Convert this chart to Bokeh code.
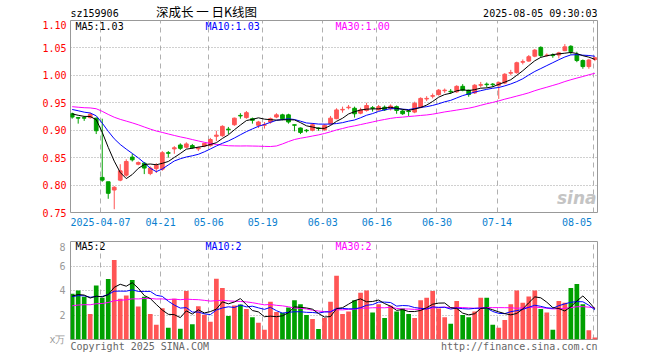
import numpy as np
from bokeh.plotting import figure
from bokeh.models import Range1d, FixedTicker, Label, ColumnDataSource, PrintfTickFormatter
from bokeh.layouts import column
from bokeh.embed import file_html
from bokeh.resources import INLINE

# ---------------- data ----------------
code = "sz159906"
title = "深成长 一 日K线图"
stamp = "2025-08-05 09:30:03"
copyright_text = "Copyright 2025 SINA.COM"
url_text = "http://finance.sina.com.cn"
vol_unit = "x万"

dates = ["03-28", "03-31", "04-01", "04-02", "04-03", "04-07", "04-08", "04-09", "04-10", "04-11",
         "04-14", "04-15", "04-16", "04-17", "04-18", "04-21", "04-22", "04-23", "04-24", "04-25",
         "04-28", "04-29", "04-30", "05-06", "05-07", "05-08", "05-09", "05-12", "05-13", "05-14",
         "05-15", "05-16", "05-19", "05-20", "05-21", "05-22", "05-23", "05-26", "05-27", "05-28",
         "05-29", "05-30", "06-03", "06-04", "06-05", "06-06", "06-09", "06-10", "06-11", "06-12",
         "06-13", "06-16", "06-17", "06-18", "06-19", "06-20", "06-23", "06-24", "06-25", "06-26",
         "06-27", "06-30", "07-01", "07-02", "07-03", "07-04", "07-07", "07-08", "07-09", "07-10",
         "07-11", "07-14", "07-15", "07-16", "07-17", "07-18", "07-21", "07-22", "07-23", "07-24",
         "07-25", "07-28", "07-29", "07-30", "07-31", "08-01", "08-04", "08-05"]

opens = [0.930, 0.923, 0.923, 0.923, 0.922, 0.814, 0.806, 0.791, 0.809, 0.818,
         0.851, 0.838, 0.840, 0.821, 0.830, 0.829, 0.859, 0.866, 0.873, 0.869,
         0.872, 0.866, 0.871, 0.872, 0.889, 0.890, 0.902, 0.910, 0.927, 0.923,
         0.921, 0.909, 0.909, 0.915, 0.924, 0.928, 0.928, 0.910, 0.904, 0.900,
         0.900, 0.904, 0.901, 0.912, 0.921, 0.937, 0.941, 0.940, 0.931, 0.936,
         0.941, 0.937, 0.942, 0.939, 0.943, 0.935, 0.935, 0.933, 0.942, 0.957,
         0.962, 0.965, 0.972, 0.971, 0.970, 0.980, 0.973, 0.968, 0.982, 0.984,
         0.984, 0.982, 0.986, 1.004, 1.005, 1.024, 1.026, 1.035, 1.051, 1.036,
         1.037, 1.037, 1.045, 1.053, 1.038, 1.027, 1.016, 1.029]
highs = [0.932, 0.924, 0.926, 0.932, 0.923, 0.921, 0.806, 0.798, 0.838, 0.847,
         0.857, 0.843, 0.842, 0.834, 0.840, 0.862, 0.862, 0.871, 0.876, 0.878,
         0.875, 0.870, 0.877, 0.886, 0.899, 0.909, 0.906, 0.923, 0.931, 0.935,
         0.923, 0.917, 0.915, 0.923, 0.931, 0.930, 0.930, 0.910, 0.905, 0.902,
         0.913, 0.905, 0.911, 0.926, 0.940, 0.943, 0.946, 0.943, 0.941, 0.950,
         0.944, 0.946, 0.945, 0.947, 0.945, 0.938, 0.937, 0.952, 0.960, 0.962,
         0.967, 0.975, 0.976, 0.975, 0.982, 0.984, 0.974, 0.984, 0.988, 0.987,
         0.986, 0.989, 1.004, 1.010, 1.025, 1.029, 1.037, 1.048, 1.053, 1.040,
         1.040, 1.043, 1.057, 1.055, 1.043, 1.029, 1.030, 1.034]
lows = [0.921, 0.912, 0.917, 0.921, 0.893, 0.806, 0.775, 0.756, 0.807, 0.815,
        0.843, 0.836, 0.820, 0.818, 0.822, 0.826, 0.850, 0.857, 0.864, 0.867,
        0.866, 0.862, 0.869, 0.870, 0.880, 0.888, 0.893, 0.908, 0.921, 0.921,
        0.912, 0.904, 0.903, 0.912, 0.922, 0.918, 0.912, 0.898, 0.893, 0.896,
        0.898, 0.899, 0.899, 0.910, 0.920, 0.932, 0.938, 0.923, 0.929, 0.934,
        0.934, 0.936, 0.935, 0.936, 0.930, 0.928, 0.926, 0.931, 0.940, 0.953,
        0.958, 0.963, 0.968, 0.966, 0.968, 0.971, 0.961, 0.966, 0.978, 0.978,
        0.979, 0.957, 0.984, 1.000, 1.003, 1.020, 1.025, 1.033, 1.033, 1.034,
        1.032, 1.031, 1.044, 1.038, 1.024, 1.012, 1.012, 1.026]
closes = [0.924, 0.922, 0.922, 0.929, 0.899, 0.809, 0.785, 0.796, 0.826, 0.843,
          0.846, 0.841, 0.831, 0.831, 0.836, 0.859, 0.858, 0.868, 0.867, 0.875,
          0.868, 0.868, 0.876, 0.883, 0.891, 0.907, 0.901, 0.922, 0.926, 0.932,
          0.918, 0.915, 0.910, 0.921, 0.928, 0.921, 0.915, 0.909, 0.896, 0.899,
          0.910, 0.903, 0.909, 0.922, 0.937, 0.938, 0.942, 0.930, 0.937, 0.945,
          0.940, 0.943, 0.937, 0.944, 0.936, 0.930, 0.934, 0.949, 0.958, 0.958,
          0.963, 0.973, 0.973, 0.970, 0.980, 0.973, 0.965, 0.982, 0.983, 0.983,
          0.983, 0.987, 1.002, 1.005, 1.023, 1.025, 1.034, 1.046, 1.036, 1.037,
          1.036, 1.041, 1.052, 1.043, 1.027, 1.016, 1.028, 1.032]
volumes = [3.73, 4.00, 3.49, 2.08, 4.40, 3.41, 4.93, 6.48, 3.33, 3.60,
           4.85, 2.69, 3.49, 2.08, 1.20, 2.56, 0.96, 3.33, 0.88, 3.95,
           1.25, 2.72, 2.03, 1.44, 4.96, 4.21, 1.92, 2.77, 2.85, 2.48,
           1.81, 1.36, 0.80, 3.09, 2.24, 2.19, 2.61, 3.20, 2.88, 2.00,
           1.68, 0.85, 1.76, 3.09, 5.20, 2.08, 2.29, 3.20, 3.81, 4.00,
           2.21, 2.88, 1.76, 2.75, 2.29, 2.53, 2.08, 1.76, 3.20, 3.41,
           3.95, 2.53, 1.81, 1.28, 3.15, 2.00, 1.81, 2.29, 3.41, 3.41,
           1.20, 0.96, 1.60, 2.88, 4.00, 3.01, 3.52, 4.00, 2.48, 2.21,
           0.80, 3.15, 3.01, 4.21, 4.53, 2.88, 0.75, 0.16]

# sessions before the visible window (estimated from where the MA lines start)
pre_closes = [0.952, 0.948, 0.941, 0.944, 0.950, 0.955, 0.949, 0.943, 0.938, 0.942,
              0.947, 0.951, 0.946, 0.940, 0.937, 0.944, 0.948, 0.945, 0.942, 0.947,
              0.945, 0.948, 0.944, 0.950, 0.942, 0.935, 0.932, 0.930, 0.928]
pre_volumes = [2.1, 2.6, 2.3, 1.9, 2.8, 2.5, 2.2, 2.0, 2.7, 2.4,
               2.9, 2.3, 2.1, 2.6, 2.2, 2.5, 2.4, 2.3, 2.6, 2.1,
               3.2, 3.6, 3.3, 3.8, 3.35, 3.4, 3.7, 3.3, 3.62]

tick_dates = ["04-07", "04-21", "05-06", "05-19", "06-03", "06-16", "06-30", "07-14", "08-05"]
tick_labels = ["2025-04-07", "04-21", "05-06", "05-19", "06-03", "06-16", "06-30", "07-14", "08-05"]
price_ticks = [0.75, 0.80, 0.85, 0.90, 0.95, 1.00, 1.05, 1.10]
vol_ticks = [0, 2, 4, 6, 8]

# ---------------- helpers ----------------
RED = "#ff5555"
GREEN = "#00a000"
MONO = "DejaVu Sans Mono"
CJK = "Noto Sans CJK SC"
CHAR_W = 6.02  # px per char of the 10px mono font


def ma(series, pre, n):
    full = np.concatenate([np.asarray(pre, float), np.asarray(series, float)])
    out = np.convolve(full, np.ones(n) / n, mode="valid")
    return out[-len(series):]


n = len(dates)
xs = np.arange(n)
colors = [RED if c >= o else GREEN for o, c in zip(opens, closes)]
src = ColumnDataSource(dict(
    x=xs, open=opens, high=highs, low=lows, close=closes,
    top=[max(o, c) for o, c in zip(opens, closes)],
    bottom=[min(o, c) for o, c in zip(opens, closes)],
    vol=volumes, color=colors,
    ma5=ma(closes, pre_closes, 5), ma10=ma(closes, pre_closes, 10), ma30=ma(closes, pre_closes, 30),
    vma5=ma(volumes, pre_volumes, 5), vma10=ma(volumes, pre_volumes, 10), vma30=ma(volumes, pre_volumes, 30),
))

# geometry (page pixels)
W = 608
FL, FR = 70, 597
HEAD_H = 20
P_TOP, P_BOT = 20, 212
V_TOP, V_BOT = 241, 341
GRID_SHIFT = -0.28
x_start = GRID_SHIFT
x_end = x_start + (FR - FL) / 6.008
fx = (x_end - x_start) / (FR - FL)


def x_at(px):
    return x_start + (px - FL) * fx


def y1_at(py):
    return price_ticks[-1] - (py - P_TOP) * (price_ticks[-1] - price_ticks[0]) / (P_BOT - P_TOP)


def y2_at(py):
    return vol_ticks[-1] - (py - V_TOP) * vol_ticks[-1] / (V_BOT - V_TOP)


def lab(fig, x, y, text, color="black", align="left", font=MONO, size="10px", style="normal"):
    fig.add_layout(Label(x=x, y=y, text=text, text_color=color, text_align=align,
                         text_baseline="middle", text_font=font, text_font_size=size,
                         text_font_style=style))


def plain(fig):
    fig.outline_line_color = "#999999"
    fig.background_fill_color = "white"
    fig.border_fill_color = "white"


x_range = Range1d(x_start, x_end)
tick_idx = [dates.index(d) for d in tick_dates]
grid_pos = [i + GRID_SHIFT for i in tick_idx]
label_pos = list(grid_pos)
label_pos[-1] = min(label_pos[-1], x_end - 3.4)

# ---------------- header ----------------
head = figure(width=W, height=HEAD_H, x_range=x_range, y_range=Range1d(HEAD_H, 0),
              output_backend="svg", toolbar_location=None, x_axis_location=None, y_axis_location=None,
              min_border_left=FL, min_border_right=W - FR, min_border_top=0, min_border_bottom=0)
head.outline_line_color = None
head.grid.visible = False
head.background_fill_color = "white"
head.border_fill_color = "white"
lab(head, x_at(FL), 12.5, code)
lab(head, x_at(206), 10.6, title, align="center", font=CJK, size="12.5px")
lab(head, x_at(FR), 12.5, stamp, align="right")

# ---------------- price figure ----------------
P_BB = 29
p1 = figure(width=W, height=(P_BOT - P_TOP) + P_BB, x_range=x_range,
            y_range=Range1d(price_ticks[0], price_ticks[-1]),
            output_backend="svg", toolbar_location=None,
            min_border_left=FL, min_border_right=W - FR, min_border_top=P_TOP - HEAD_H,
            min_border_bottom=P_BB)
plain(p1)

p1.xgrid.ticker = FixedTicker(ticks=grid_pos)
p1.xgrid.grid_line_color = "#b0b0b0"
p1.xgrid.grid_line_dash = "5 4"
p1.ygrid.ticker = FixedTicker(ticks=price_ticks[1:-1])
p1.ygrid.grid_line_color = "#a0a0a0"
p1.ygrid.grid_line_dash = "1 2"

p1.xaxis.ticker = FixedTicker(ticks=label_pos)
p1.xaxis.major_label_overrides = {pos: lab_ for pos, lab_ in zip(label_pos, tick_labels)}
p1.xaxis.axis_line_color = None
p1.xaxis.major_tick_line_color = None
p1.xaxis.minor_tick_line_color = None
p1.xaxis.major_tick_out = 0
p1.xaxis.major_label_standoff = 5
p1.xaxis.major_label_text_font = MONO
p1.xaxis.major_label_text_font_size = "10px"
p1.xaxis.major_label_text_color = "#0a7fcf"

p1.yaxis.ticker = FixedTicker(ticks=price_ticks)
p1.yaxis.formatter = PrintfTickFormatter(format="%.2f")
p1.yaxis.axis_line_color = None
p1.yaxis.major_tick_line_color = None
p1.yaxis.minor_tick_line_color = None
p1.yaxis.major_tick_out = 0
p1.yaxis.major_label_standoff = 4
p1.yaxis.major_label_text_font = MONO
p1.yaxis.major_label_text_font_size = "10px"
p1.yaxis.major_label_text_color = "#ff0000"

p1.segment(x0="x", y0="low", x1="x", y1="high", line_color="color", line_width=1, source=src)
p1.vbar(x="x", width=0.62, top="top", bottom="bottom", fill_color="color", line_color="color",
        line_width=1, source=src)
p1.line(x="x", y="ma30", line_color="#ff00ff", line_width=1, source=src)
p1.line(x="x", y="ma10", line_color="#0000ff", line_width=1, source=src)
p1.line(x="x", y="ma5", line_color="black", line_width=1, source=src)

lab(p1, x_at(75), y1_at(26), f"MA5:{src.data['ma5'][-1]:.2f}", "black")
lab(p1, x_at(205), y1_at(26), f"MA10:{src.data['ma10'][-1]:.2f}", "#0000ff")
lab(p1, x_at(335), y1_at(26), f"MA30:{src.data['ma30'][-1]:.2f}", "#ff00ff")
lab(p1, x_at(596), y1_at(197), "sina", "#c4c4c4", align="right", font="DejaVu Sans", size="17px",
    style="bold italic")

# ---------------- volume figure ----------------
FOOT = 13
V_TB = V_TOP - (P_BOT + P_BB)
p2 = figure(width=W, height=V_TB + (V_BOT - V_TOP) + FOOT, x_range=x_range,
            y_range=Range1d(vol_ticks[0], vol_ticks[-1]),
            output_backend="svg", toolbar_location=None,
            min_border_left=FL, min_border_right=W - FR, min_border_top=V_TB,
            min_border_bottom=FOOT)
plain(p2)

p2.xgrid.ticker = FixedTicker(ticks=grid_pos)
p2.xgrid.grid_line_color = "#b0b0b0"
p2.xgrid.grid_line_dash = "5 4"
p2.ygrid.ticker = FixedTicker(ticks=vol_ticks[1:-1])
p2.ygrid.grid_line_color = "#a0a0a0"
p2.ygrid.grid_line_dash = "1 2"

p2.yaxis.ticker = FixedTicker(ticks=vol_ticks)
p2.yaxis.major_label_overrides = {0: vol_unit}
p2.yaxis.axis_line_color = None
p2.yaxis.major_tick_line_color = None
p2.yaxis.minor_tick_line_color = None
p2.yaxis.major_tick_out = 0
p2.yaxis.major_label_standoff = 5
p2.yaxis.major_label_text_font = MONO
p2.yaxis.major_label_text_font_size = "10px"
p2.yaxis.major_label_text_color = "#999999"

# footer texts carried by the bottom axis of the volume panel
foot_left = x_at(FL + len(copyright_text) * CHAR_W / 2)
foot_right = x_at(FR - len(url_text) * CHAR_W / 2)
p2.xaxis.ticker = FixedTicker(ticks=[foot_left, foot_right])
p2.xaxis.major_label_overrides = {foot_left: copyright_text, foot_right: url_text}
p2.xaxis.axis_line_color = None
p2.xaxis.major_tick_line_color = None
p2.xaxis.minor_tick_line_color = None
p2.xaxis.major_tick_out = 0
p2.xaxis.major_label_standoff = 1
p2.xaxis.major_label_text_font = MONO
p2.xaxis.major_label_text_font_size = "10px"
p2.xaxis.major_label_text_color = "#666666"

p2.vbar(x="x", width=0.78, top="vol", bottom=0, fill_color="color", line_color=None, source=src)
p2.line(x="x", y="vma30", line_color="#ff00ff", line_width=1, source=src)
p2.line(x="x", y="vma10", line_color="#0000ff", line_width=1, source=src)
p2.line(x="x", y="vma5", line_color="black", line_width=1, source=src)

lab(p2, x_at(75), y2_at(246), f"MA5:{int(src.data['vma5'][-1])}", "black")
lab(p2, x_at(205), y2_at(246), f"MA10:{int(src.data['vma10'][-1])}", "#0000ff")
lab(p2, x_at(335), y2_at(246), f"MA30:{int(src.data['vma30'][-1])}", "#ff00ff")

layout = column(head, p1, p2)
open("out.html", "w").write(file_html(layout, INLINE))
